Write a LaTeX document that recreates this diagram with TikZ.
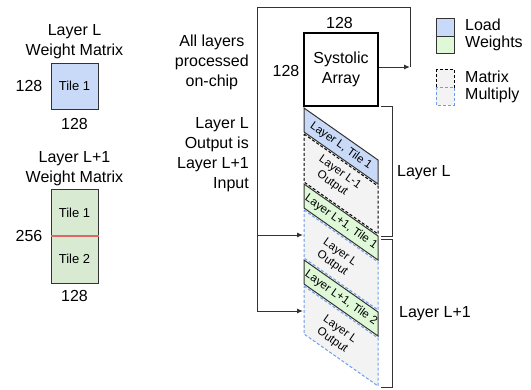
\documentclass[tikz,border=0pt]{standalone}
\usepackage{fontspec}
\setmainfont{Liberation Sans}
\usetikzlibrary{arrows.meta,positioning}
\definecolor{loadblue}{HTML}{C9DAF8}
\definecolor{wtgreen}{HTML}{D9EAD3}
\definecolor{stripgreen}{HTML}{DFF8D8}
\definecolor{mmgray}{HTML}{F3F3F3}
\definecolor{mmblue}{HTML}{6D9EEB}
\definecolor{tilered}{HTML}{E06666}
\definecolor{edgegray}{HTML}{333333}

\begin{document}
\begin{tikzpicture}[x=1pt,y=-1pt,>={Latex[length=6pt,width=5pt]},
  font=\fontsize{16}{20}\selectfont,
  lbl/.style={inner sep=0pt,align=center},
  tilefont/.style={font=\fontsize{13}{15}\selectfont},
  striptext/.style={font=\fontsize{11.5}{13.5}\selectfont,rotate=-35.1,inner sep=0pt,align=center},
  wbox/.style={draw=edgegray,line width=1pt,minimum width=47pt,inner sep=0pt},
  mmdash/.style={dash pattern=on 3pt off 2pt,line width=1pt},
  tilestrip/.style={draw=edgegray,line width=1pt},
  wire/.style={draw=edgegray,line width=1pt}]
\useasboundingbox (0,0) rectangle (531,389);

\node[lbl] (w1title) at (74.5,42) {Layer L\\Weight Matrix};
\node[wbox,fill=loadblue,minimum height=46pt,tilefont] (w1) at (74.5,86) {Tile 1};
\node[lbl] (w1rows) at (29,86) {128};
\node[lbl] (w1cols) at (74.5,123.5) {128};

\node[lbl] (w2title) at (74.5,168.5) {Layer L+1\\Weight Matrix};
\node[wbox,fill=wtgreen,minimum height=94pt] (w2) at (74.5,236) {};
\draw[tilered,line width=1.2pt] (w2.west) -- (w2.east);
\node[tilefont] (w2t1) at (74.5,213) {Tile 1};
\node[tilefont] (w2t2) at (74.5,259) {Tile 2};
\node[lbl] (w2rows) at (29,236) {256};
\node[lbl] (w2cols) at (74.5,296) {128};

\node[lbl,anchor=east] (onchip) at (249,62) {All layers\\processed\\on-chip};
\node[lbl,anchor=east,align=right] (chain) at (249,155) {Layer L\\Output is\\Layer L+1\\Input};

\node[draw=black,line width=1.6pt,minimum width=74pt,minimum height=73pt,lbl] (sa) at (341,69.5) {Systolic\\Array};
\node[lbl] (sacols) at (339.5,23) {128};
\node[lbl] (sarows) at (286,71) {128};

\coordinate (ret) at (410,67);
\coordinate (loopTR) at (410,7);
\coordinate (loopTL) at (257,7);
\coordinate (loopB1) at (257,235);
\coordinate (loopB2) at (257,311);
\coordinate (in1) at (303,235);
\coordinate (in2) at (303,311);
\draw[wire,->] (sa.east |- ret) -- (ret);
\draw[wire] (ret) -- (loopTR) -- (loopTL) -- (loopB2);
\draw[wire,->] (loopB1) -- (in1);
\draw[wire,->] (loopB2) -- (in2);

\fill[mmgray] (304,132) -- (378,184) -- (378,236) -- (304,184) -- cycle;
\draw[mmdash,black] (304,134) -- (378,186) -- (378,234) -- (304,182) -- cycle;
\fill[mmgray] (304,208) -- (378,260) -- (378,312) -- (304,260) -- cycle;
\draw[mmdash,mmblue] (304,210) -- (378,262) -- (378,310) -- (304,258) -- cycle;
\fill[mmgray] (304,284) -- (378,336) -- (378,386) -- (304,334) -- cycle;
\draw[mmdash,mmblue] (304,286) -- (378,338) -- (378,386) -- (304,334) -- cycle;

\filldraw[tilestrip,fill=loadblue] (304,108) -- (378,160) -- (378,184) -- (304,132) -- cycle;
\filldraw[tilestrip,fill=stripgreen] (304,184) -- (378,236) -- (378,260) -- (304,208) -- cycle;
\filldraw[tilestrip,fill=stripgreen] (304,260) -- (378,312) -- (378,336) -- (304,284) -- cycle;

\node[striptext] (s1) at (341,146) {Layer L, Tile 1};
\node[striptext] (o1) at (336,178) {Layer L-1\\Output};
\node[striptext] (s2) at (341,222) {Layer L+1, Tile 1};
\node[striptext] (o2) at (336,258) {Layer L\\Output};
\node[striptext] (s3) at (341,298) {Layer L+1, Tile 2};
\node[striptext] (o3) at (336,335) {Layer L\\Output};

\draw[wire] (381,106) -- (392,106) -- (392,236) -- (381,236);
\draw[wire] (381,239) -- (392,239) -- (392,387) -- (381,387);
\node[lbl,anchor=west] (layL) at (397,173) {Layer L};
\node[lbl,anchor=west] (layL1) at (399,314) {Layer L+1};

\draw[draw=edgegray,line width=1pt,fill=loadblue] (436,18) rectangle (454,36);
\draw[draw=edgegray,line width=1pt,fill=stripgreen] (436,36) rectangle (454,53);
\draw[mmdash,black,fill=mmgray] (436,69) rectangle (454,87);
\draw[mmdash,mmblue,fill=mmgray] (436,87) rectangle (454,105);
\node[lbl,anchor=west,align=left,font=\fontsize{16}{17}\selectfont] (keyload) at (465,35) {Load\\Weights};
\node[lbl,anchor=west,align=left,font=\fontsize{16}{17}\selectfont] (keymm) at (465,87) {Matrix\\Multiply};
\end{tikzpicture}
\end{document}
